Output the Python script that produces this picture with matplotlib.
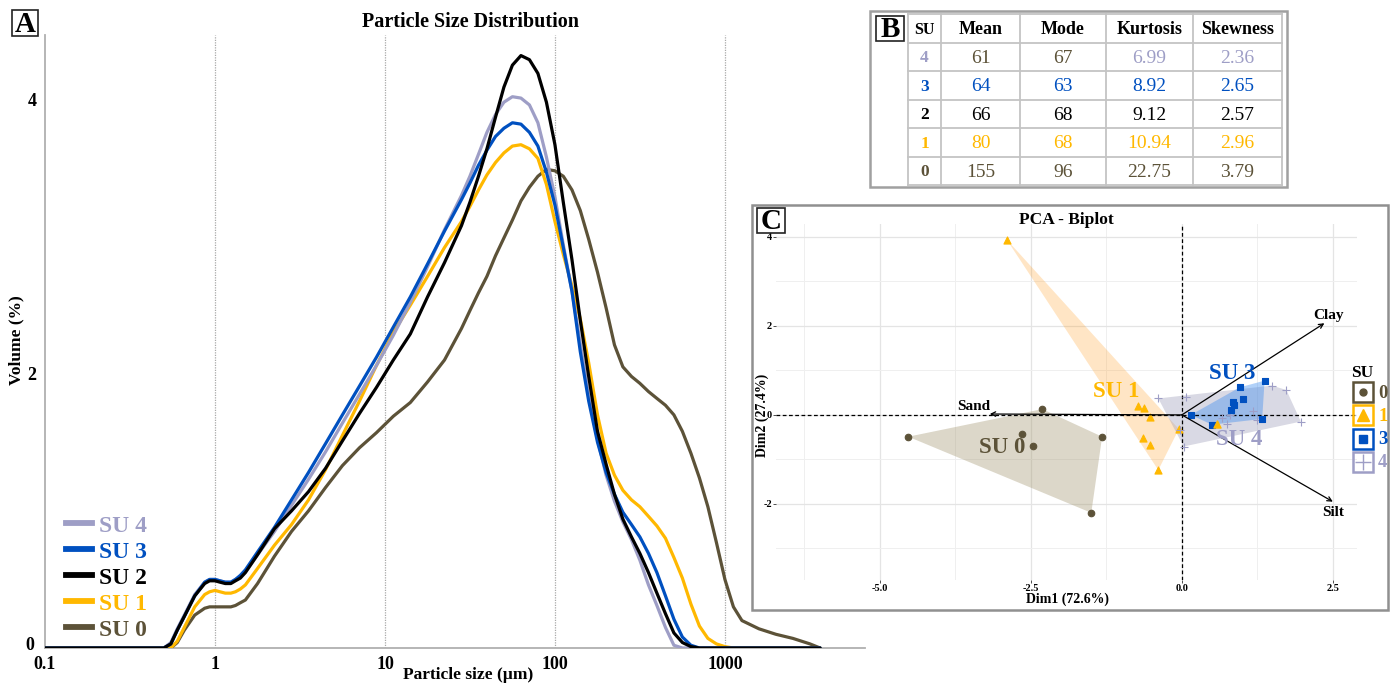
import numpy as np
import matplotlib
matplotlib.use("Agg")
import matplotlib.pyplot as plt
from matplotlib.lines import Line2D
from matplotlib.patches import Rectangle, Polygon
from matplotlib.ticker import NullLocator
from matplotlib.transforms import ScaledTranslation

plt.rcParams['font.family'] = ['Liberation Serif', 'DejaVu Serif']
plt.rcParams['font.weight'] = 'bold'

# ---------- panel A: particle size distribution ----------
sizes = [0.1, 0.5, 0.55, 0.6, 0.66, 0.76, 0.87, 0.93, 1.0, 1.07,
         1.15, 1.24, 1.32, 1.41, 1.51, 1.78, 2.24, 2.82, 3.55, 4.47,
         5.62, 7.08, 8.91, 11.2, 14.1, 17.8, 22.4, 28.2, 31.6, 35.5,
         39.8, 44.7, 50.1, 56.2, 63.1, 70.8, 79.4, 89.1, 100, 112,
         126, 141, 158, 178, 200, 224, 251, 282, 316, 355,
         398, 447, 501, 562, 631, 708, 794, 891, 1000, 1122,
         1259, 1585, 1995, 2512, 3162, 3630]
su4 = [0, 0, 0.04, 0.14, 0.24, 0.39, 0.48, 0.50, 0.50, 0.49,
       0.48, 0.48, 0.50, 0.52, 0.56, 0.68, 0.85, 1.04, 1.23, 1.43,
       1.64, 1.85, 2.06, 2.28, 2.52, 2.78, 3.05, 3.30, 3.44, 3.60,
       3.76, 3.89, 3.98, 4.02, 4.01, 3.96, 3.83, 3.58, 3.29, 2.94,
       2.60, 2.22, 1.84, 1.52, 1.26, 1.07, 0.92, 0.79, 0.64, 0.46,
       0.31, 0.15, 0.02, 0, 0, 0, 0, 0, 0, 0,
       0, 0, 0, 0, 0, 0]
su3 = [0, 0, 0.03, 0.13, 0.23, 0.38, 0.48, 0.50, 0.50, 0.49,
       0.48, 0.48, 0.50, 0.53, 0.57, 0.70, 0.88, 1.08, 1.28, 1.49,
       1.70, 1.91, 2.12, 2.34, 2.56, 2.80, 3.04, 3.27, 3.39, 3.52,
       3.63, 3.73, 3.79, 3.83, 3.82, 3.76, 3.66, 3.47, 3.23, 2.92,
       2.60, 2.16, 1.80, 1.50, 1.28, 1.12, 0.99, 0.90, 0.81, 0.69,
       0.55, 0.38, 0.21, 0.08, 0.02, 0, 0, 0, 0, 0,
       0, 0, 0, 0, 0, 0]
su2 = [0, 0, 0.03, 0.13, 0.23, 0.38, 0.47, 0.49, 0.49, 0.48,
       0.47, 0.47, 0.49, 0.51, 0.55, 0.68, 0.87, 1.00, 1.14, 1.31,
       1.51, 1.71, 1.90, 2.10, 2.29, 2.56, 2.81, 3.08, 3.25, 3.44,
       3.64, 3.87, 4.09, 4.25, 4.32, 4.29, 4.19, 3.98, 3.67, 3.25,
       2.83, 2.39, 1.98, 1.58, 1.34, 1.12, 0.94, 0.81, 0.69, 0.55,
       0.40, 0.25, 0.11, 0.04, 0.01, 0, 0, 0, 0, 0,
       0, 0, 0, 0, 0, 0]
su1 = [0, 0, 0, 0.05, 0.15, 0.30, 0.39, 0.41, 0.42, 0.41,
       0.40, 0.40, 0.41, 0.43, 0.46, 0.58, 0.75, 0.90, 1.08, 1.30,
       1.55, 1.80, 2.06, 2.30, 2.50, 2.71, 2.92, 3.11, 3.22, 3.34,
       3.45, 3.54, 3.61, 3.66, 3.67, 3.64, 3.57, 3.38, 3.11, 2.87,
       2.64, 2.40, 2.08, 1.70, 1.42, 1.26, 1.15, 1.08, 1.03, 0.96,
       0.89, 0.80, 0.66, 0.51, 0.32, 0.16, 0.07, 0.03, 0.01, 0,
       0, 0, 0, 0, 0, 0]
su0 = [0, 0, 0, 0.04, 0.13, 0.24, 0.29, 0.30, 0.30, 0.30,
       0.30, 0.30, 0.31, 0.33, 0.35, 0.47, 0.67, 0.85, 1.00, 1.17,
       1.33, 1.46, 1.57, 1.69, 1.79, 1.94, 2.10, 2.33, 2.46, 2.59,
       2.71, 2.86, 2.99, 3.12, 3.26, 3.36, 3.44, 3.49, 3.48, 3.44,
       3.34, 3.19, 2.98, 2.74, 2.48, 2.21, 2.05, 1.98, 1.93, 1.87,
       1.82, 1.77, 1.70, 1.58, 1.42, 1.24, 1.03, 0.77, 0.50, 0.30,
       0.20, 0.14, 0.10, 0.07, 0.03, 0]

colors = {'0': '#5c5238', '1': '#ffb800', '2': '#000000',
          '3': '#0050c0', '4': '#9e9ec6'}

# ---------- panel B: summary table ----------
table_cols = ['SU', 'Mean', 'Mode', 'Kurtosis', 'Skewness']
table_su = ['4', '3', '2', '1', '0']
table_mean = [61, 64, 66, 80, 155]
table_mode = [67, 63, 68, 68, 96]
table_kurt = [6.99, 8.92, 9.12, 10.94, 22.75]
table_skew = [2.36, 2.65, 2.57, 2.96, 3.79]

# ---------- panel C: PCA scores and loadings ----------
su0_d1 = [-2.31, -4.53, -2.65, -2.47, -1.32, -1.50]
su0_d2 = [0.13, -0.49, -0.43, -0.69, -0.49, -2.20]
su1_d1 = [-2.90, -0.72, -0.62, -0.52, -0.64, -0.52, -0.39, -0.05]
su1_d2 = [3.94, 0.21, 0.15, -0.05, -0.52, -0.67, -1.24, -0.32]
su1_out_d1 = [0.59]
su1_out_d2 = [-0.20]
su3_d1 = [0.15, 0.50, 0.81, 0.85, 0.87, 0.96, 1.02, 1.37, 1.33]
su3_d2 = [0.00, -0.22, 0.10, 0.28, 0.23, 0.62, 0.36, 0.77, -0.09]
su4_d1 = [-0.39, 0.07, -0.03, 0.03, 0.66, 0.75, 0.80, 1.17, 1.24, 1.49, 1.73, 1.97]
su4_d2 = [0.37, 0.40, -0.34, -0.71, -0.07, -0.20, -0.01, 0.08, -0.11, 0.66, 0.56, -0.15]
var_names = ['Clay', 'Silt', 'Sand']
var_d1 = [2.36, 2.50, -3.18]
var_d2 = [2.06, -1.95, 0.02]


def hull(xs, ys):
    # monotone chain convex hull
    pts = sorted(set(zip(xs, ys)))
    if len(pts) < 3:
        return pts

    def cross(o, a, b):
        return (a[0] - o[0]) * (b[1] - o[1]) - (a[1] - o[1]) * (b[0] - o[0])
    lower, upper = [], []
    for p in pts:
        while len(lower) >= 2 and cross(lower[-2], lower[-1], p) <= 0:
            lower.pop()
        lower.append(p)
    for p in reversed(pts):
        while len(upper) >= 2 and cross(upper[-2], upper[-1], p) <= 0:
            upper.pop()
        upper.append(p)
    return lower[:-1] + upper[:-1]


W, H = 1392, 685
fig = plt.figure(figsize=(W / 100, H / 100), dpi=100)


def fx(px):
    return px / W


def fy(py):
    return 1 - py / H


# ================= A =================
axA = fig.add_axes([fx(45), fy(648), fx(865) - fx(45), fy(35) - fy(648)])
series = [('0', su0), ('1', su1), ('4', su4), ('3', su3), ('2', su2)]
for k, vals in series:
    axA.plot(sizes, vals, color=colors[k], lw=2.3, zorder=3,
             solid_joinstyle='round', solid_capstyle='round')
axA.set_xscale('log')
axA.set_xlim(0.1, 6670)
axA.set_ylim(0, 4.47)
axA.set_xticks([0.1, 1, 10, 100, 1000])
axA.set_xticklabels(['0.1', '1', '10', '100', '1000'])
axA.xaxis.set_minor_locator(NullLocator())
axA.set_yticks([0, 2, 4])
axA.tick_params(length=0, labelsize=13)
axA.tick_params(axis='x', pad=6)
axA.tick_params(axis='y', pad=6)
# lift the "0" label a little so it clears "0.1"
zero_lab = axA.get_yticklabels()[0]
zero_lab.set_transform(zero_lab.get_transform() +
                       ScaledTranslation(-2 / 100, 4 / 100, fig.dpi_scale_trans))
for v in [1, 10, 100, 1000]:
    axA.axvline(v, color='#a8a8a8', lw=0.9, ls=(0, (1, 1)), zorder=0)
for s in ['top', 'right']:
    axA.spines[s].set_visible(False)
for s in ['left', 'bottom']:
    axA.spines[s].set_color('#b0b0b0')
    axA.spines[s].set_linewidth(1.3)

handles = [Line2D([], [], color=colors[k], lw=4.2) for k in ['4', '3', '2', '1', '0']]
leg = axA.legend(handles, ['SU 4', 'SU 3', 'SU 2', 'SU 1', 'SU 0'],
                 loc='lower left', bbox_to_anchor=(0.026, 0.012), frameon=False,
                 fontsize=17, handlelength=1.1, handletextpad=0.3,
                 labelspacing=0.19, borderpad=0, borderaxespad=0)
for t, k in zip(leg.get_texts(), ['4', '3', '2', '1', '0']):
    t.set_color(colors[k])
    t.set_fontweight('bold')

fig.text(fx(470), fy(22), 'Particle Size Distribution', ha='center', va='center',
         fontsize=14.5, fontweight='bold')
fig.text(fx(16), fy(340), 'Volume (%)', ha='center', va='center', rotation=90,
         fontsize=12.5, fontweight='bold')
fig.text(fx(468), fy(675), 'Particle size (\u00b5m)', ha='center', va='center',
         fontsize=12.5, fontweight='bold')

# ================= C =================
axC = fig.add_axes([fx(776), fy(580), fx(1357) - fx(776), fy(224) - fy(580)])
axC.set_xlim(-6.72, 2.90)
axC.set_ylim(-3.71, 4.29)
axC.set_xticks([-5, -2.5, 0, 2.5])
axC.set_xticklabels(['-5.0', '-2.5', '0.0', '2.5'])
axC.set_xticks([-6.25, -3.75, -1.25, 1.25], minor=True)
axC.set_yticks([-2, 0, 2, 4])
axC.set_yticklabels(['-2', '0', '2', '4'])
axC.set_yticks([-3, -1, 1, 3], minor=True)
axC.grid(which='major', color='#e4e4e4', lw=0.9)
axC.grid(which='minor', color='#efefef', lw=0.7)
axC.set_axisbelow(True)
axC.tick_params(which='major', length=2, width=0.6, color='#333333',
                labelsize=7.5, pad=1)
axC.tick_params(which='minor', length=0)
for s in axC.spines.values():
    s.set_visible(False)

groups = [('0', su0_d1, su0_d2, 'o', '#a89c78', 0.40, 22),
          ('1', su1_d1, su1_d2, '^', '#ff9a1a', 0.25, 26),
          ('4', su4_d1, su4_d2, '+', '#9c9cb8', 0.38, 40),
          ('3', su3_d1, su3_d2, 's', '#3c8cf0', 0.40, 16)]
for k, d1, d2, mk, fc, al, ms in groups:
    axC.add_patch(Polygon(hull(d1, d2), closed=True, facecolor=fc, alpha=al,
                          edgecolor='none', zorder=1))
for k, d1, d2, mk, fc, al, ms in groups:
    axC.scatter(d1, d2, marker=mk, s=ms, color=colors[k], zorder=3,
                linewidths=0.8)
axC.scatter(su1_out_d1, su1_out_d2, marker='^', s=26, color=colors['1'], zorder=3)

axC.axhline(0, color='black', lw=0.9, ls=(0, (3, 2)), zorder=2)
axC.axvline(0, color='black', lw=0.9, ls=(0, (3, 2)), zorder=2)
for name, d1, d2 in zip(var_names, var_d1, var_d2):
    axC.annotate('', xy=(d1, d2), xytext=(0, 0), zorder=4,
                 arrowprops=dict(arrowstyle='->', lw=0.9, color='black',
                                 mutation_scale=8, shrinkA=0, shrinkB=0))
var_lab = {'Clay': (2.42, 2.24), 'Silt': (2.50, -2.20), 'Sand': (-3.45, 0.18)}
for name in var_names:
    x, y = var_lab[name]
    axC.text(x, y, name, ha='center', va='center', fontsize=11, fontweight='bold',
             zorder=5)
grp_lab = {'0': (-2.98, -0.73), '1': (-1.08, 0.52), '3': (0.84, 0.92), '4': (0.95, -0.55)}
for k, (x, y) in grp_lab.items():
    axC.text(x, y, 'SU ' + k, color=colors[k], ha='center', va='center',
             fontsize=16.5, fontweight='bold', zorder=5)

fig.text(fx(1066), fy(220), 'PCA - Biplot', ha='center', va='center',
         fontsize=12.5, fontweight='bold')
fig.text(fx(1067), fy(599), 'Dim1 (72.6%)', ha='center', va='center',
         fontsize=10, fontweight='bold')
fig.text(fx(762), fy(415), 'Dim2 (27.4%)', ha='center', va='center',
         rotation=90, fontsize=10, fontweight='bold')

# ================= overlay: frames, table, legend C =================
ov = fig.add_axes([0, 0, 1, 1], zorder=10)
ov.set_xlim(0, W)
ov.set_ylim(H, 0)
ov.axis('off')
ov.patch.set_alpha(0)


def letter_box(x0, y0, w, h, s):
    ov.add_patch(Rectangle((x0, y0), w, h, fill=False, edgecolor='#222222', lw=1.2))
    ov.text(x0 + w / 2, y0 + h / 2 + 1, s, ha='center', va='center',
            fontsize=21, fontweight='bold')


letter_box(12, 10, 26, 26, 'A')

# table B
ov.add_patch(Rectangle((870, 11), 417, 176, fill=False, edgecolor='#a0a0a0', lw=1.8))
letter_box(876, 16, 28, 25, 'B')
col_x = [908, 941, 1020, 1106, 1193, 1282]
row_y = [14, 43, 71, 100, 128, 157, 185]
for x in col_x:
    ov.plot([x, x], [row_y[0], row_y[-1]], color='#c4c4c4', lw=1.3)
for y in row_y:
    ov.plot([col_x[0], col_x[-1]], [y, y], color='#c4c4c4', lw=1.3)
for j, c in enumerate(table_cols):
    ov.text((col_x[j] + col_x[j + 1]) / 2, (row_y[0] + row_y[1]) / 2 + 1, c,
            ha='center', va='center', fontsize=13 if j else 11.5, fontweight='bold')
for i, k in enumerate(table_su):
    yc = (row_y[i + 1] + row_y[i + 2]) / 2 + 1
    main_c = colors[k]
    cell_c = [main_c] * 5
    if k == '4':
        cell_c = [main_c, colors['0'], colors['0'], main_c, main_c]
    vals = [k, str(table_mean[i]), str(table_mode[i]),
            f'{table_kurt[i]:.2f}', f'{table_skew[i]:.2f}']
    for j, v in enumerate(vals):
        ov.text((col_x[j] + col_x[j + 1]) / 2, yc, v, ha='center', va='center',
                color=cell_c[j], fontsize=14 if j else 12.5,
                fontweight='bold' if j == 0 else 'normal')

# frame C
ov.add_patch(Rectangle((752, 205), 636, 405, fill=False, edgecolor='#909090', lw=1.8))
letter_box(757, 208, 28, 25, 'C')

# legend C
ov.text(1362, 373, 'SU', ha='center', va='center', fontsize=12.5, fontweight='bold')
leg_keys = [('0', 'o', 5), ('1', '^', 8), ('3', 's', 6), ('4', '+', 11)]
for i, (k, mk, ms) in enumerate(leg_keys):
    yc = 392 + i * 23.3
    ov.add_patch(Rectangle((1353, yc - 10), 20, 20, fill=False,
                           edgecolor=colors[k], lw=1.8))
    ov.plot([1363], [yc], marker=mk, ms=ms, color=colors[k], mew=1.0, ls='none')
    ov.text(1378, yc + 1, k, color=colors[k], ha='left', va='center',
            fontsize=13.5, fontweight='bold')

fig.savefig('out.png', dpi=100)
